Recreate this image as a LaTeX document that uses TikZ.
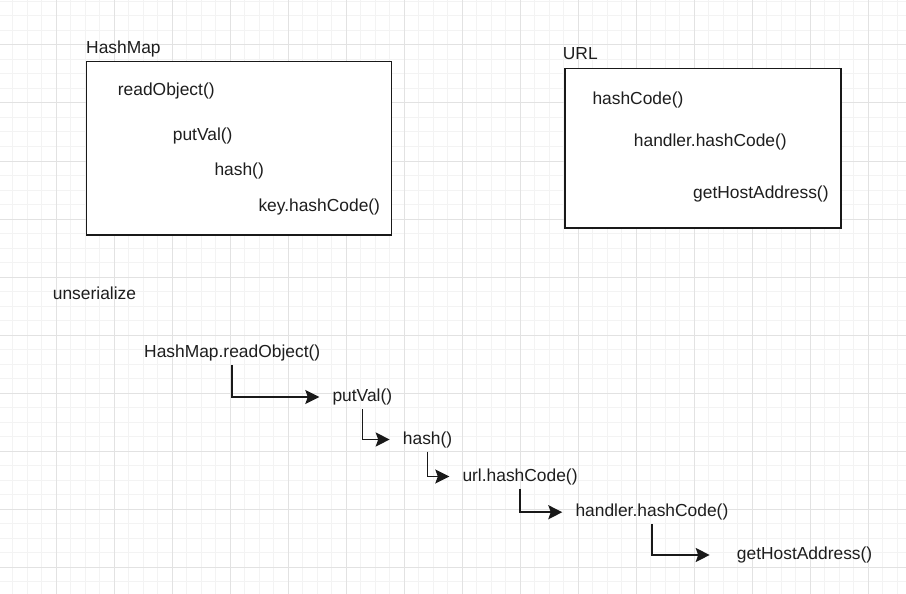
\documentclass[tikz,border=0pt]{standalone}
\usepackage{fontspec}
\setmainfont{Liberation Sans}
\usetikzlibrary{arrows.meta}
\definecolor{txt}{HTML}{1E1E1E}
\definecolor{gridminor}{HTML}{F3F3F3}
\definecolor{gridmajor}{HTML}{E2E2E2}
\begin{document}
\begin{tikzpicture}[x=1pt,y=-1pt,
  lbl/.style={anchor=west,inner sep=0pt,text height=12.5pt,text depth=3.5pt,font=\fontsize{17.4}{20}\selectfont,text=txt},
  box/.style={draw=black!90,line width=1.5pt,fill=white,anchor=north west,inner sep=0pt},
  arr/.style={draw=black!90,line width=1.5pt,-{Stealth[length=14pt,width=14pt,inset=2.5pt]}},
  minor/.style={draw=gridminor,line width=1pt},
  major/.style={draw=gridmajor,line width=1pt}]
\useasboundingbox (0,0) rectangle (906,594);
\fill[white] (0,0) rectangle (906,594);
% grid
\foreach \i in {0,...,61} \draw[minor] (12.5+14.5*\i,0) -- ++(0,594);
\foreach \j in {0,...,40} \draw[minor] (0,1.5+14.5*\j) -- ++(906,0);
\foreach \k in {0,...,15} \draw[major] (-2+58*\k,0) -- ++(0,594);
\foreach \k in {1,...,10} \draw[major] (0,-13+58*\k) -- ++(906,0);
% HashMap box
\node[box,minimum width=305pt,minimum height=173.6pt] (hm) at (85.7,60.7) {};
\node[lbl] (hmlbl) at (86,48.8) {HashMap};
\node[lbl] (h1) at (117.7,91.2) {readObject()};
\node[lbl] (h2) at (172.7,135.5) {putVal()};
\node[lbl] (h3) at (214.3,171.2) {hash()};
\node[lbl] (h4) at (258.3,207.2) {key.hashCode()};
% URL box
\node[box,minimum width=275.7pt,minimum height=159.6pt] (url) at (564.3,67.7) {};
\node[lbl] (urllbl) at (562.7,55.5) {URL};
\node[lbl] (u1) at (592.3,99.8) {hashCode()};
\node[lbl] (u2) at (633.7,142.2) {handler.hashCode()};
\node[lbl] (u3) at (693,193.8) {getHostAddress()};
% chain
\node[lbl] (unser) at (52.7,294.5) {unserialize};
\node[lbl] (c1) at (144,353.2) {HashMap.readObject()};
\node[lbl] (c2) at (332.3,397) {putVal()};
\node[lbl] (c3) at (402.7,439.5) {hash()};
\node[lbl] (c4) at (462.3,476.5) {url.hashCode()};
\node[lbl] (c5) at (575.3,512.2) {handler.hashCode()};
\node[lbl] (c6) at (736.7,555) {getHostAddress()};
\draw[arr] ([yshift=-12pt]c1.center) |- ([xshift=-13pt]c2.west);
\draw[arr] ([yshift=-12pt]c2.center) |- ([xshift=-13pt]c3.west);
\draw[arr] ([yshift=-12pt]c3.center) |- ([xshift=-13pt]c4.west);
\draw[arr] ([yshift=-12pt]c4.center) |- ([xshift=-13pt]c5.west);
\draw[arr] ([yshift=-12pt]c5.center) |- ([xshift=-27pt]c6.west);
\end{tikzpicture}
\end{document}
